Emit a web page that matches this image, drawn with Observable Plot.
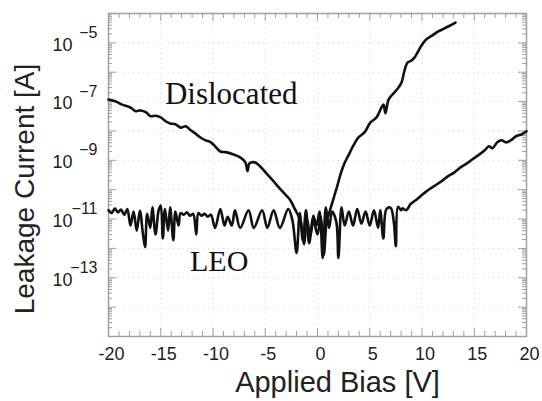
<!DOCTYPE html>
<html><head><meta charset="utf-8">
<script src="https://cdn.jsdelivr.net/npm/d3@7"></script>
<script src="https://cdn.jsdelivr.net/npm/@observablehq/plot@0.6"></script>
<style>body{margin:0;background:#fff}svg{display:block}</style>
</head><body><div id="chart"></div>
<script>
// Dislocated device: bias [V] and leakage current [A]
const disV = [-20,-19.3,-18.7,-17.9,-17.4,-16.9,-16.4,-16.0,-15.5,-15.0,-14.5,-14.1,-13.6,-13.1,-12.6,-12.2,-11.7,-11.2,-10.7,-10.2,-9.8,-9.3,-8.8,-8.1,-7.4,-6.9,-6.7,-6.5,-6.0,-5.5,-4.8,-4.3,-3.7,-3.2,-2.6,-2.2,-1.9,-1.6,-1.3,-1.0,-0.7,-0.4,0.0,0.3,0.6,0.9,1.05,1.34,1.63,1.91,2.2,2.58,2.97,3.44,3.92,4.5,5.07,5.65,6.12,6.32,6.5,6.8,7.27,7.75,8.04,8.33,8.6,9.0,9.3,9.57,9.95,10.4,11.0,11.6,12.15,12.7,13.2];
const disI = [1.17e-7,1.0e-7,7.9e-8,6.3e-8,4.7e-8,5.0e-8,4.3e-8,3.2e-8,3.3e-8,2.9e-8,2.1e-8,1.8e-8,1.7e-8,1.3e-8,1.45e-8,1.1e-8,8.3e-9,6.0e-9,4.8e-9,4.1e-9,3.0e-9,2.0e-9,1.9e-9,1.6e-9,1.26e-9,8.5e-10,4.3e-10,7.9e-10,8.5e-10,6.3e-10,3.3e-10,2.1e-10,1.2e-10,7.6e-11,4.4e-11,2.3e-11,1.45e-11,8e-12,1.4e-12,1.0e-11,2.5e-12,9e-12,3e-12,1.2e-11,6e-13,1.0e-11,1.35e-11,2.95e-11,6.5e-11,1.4e-10,3.3e-10,7.9e-10,1.5e-9,3.2e-9,6.0e-9,8.9e-9,1.95e-8,2.9e-8,6.3e-8,7.9e-8,4.0e-8,1.17e-7,1.9e-7,3.0e-7,4.5e-7,1.15e-6,2.1e-6,2.5e-6,3.2e-6,4.7e-6,8.1e-6,1.3e-5,1.8e-5,2.5e-5,3.1e-5,3.9e-5,4.9e-5];

// LEO device
const leoV = [-20.0,-19.7,-19.4,-19.1,-18.8,-18.5,-18.2,-17.9,-17.6,-17.3,-17.0,-16.7,-16.5,-16.3,-16.0,-15.8,-15.5,-15.2,-15.0,-14.8,-14.6,-14.3,-14.1,-13.8,-13.6,-13.3,-13.1,-12.8,-12.5,-12.2,-11.9,-11.6,-11.4,-11.1,-10.8,-10.5,-10.2,-9.8,-9.3,-8.9,-8.6,-8.2,-7.9,-7.4,-6.6,-6.1,-5.3,-4.8,-4.2,-3.6,-2.8,-2.4,-2.0,-1.7,-1.4,-1.1,-0.8,-0.4,-0.1,0.2,0.5,0.8,1.1,1.4,1.8,2.0,2.3,2.6,3.0,3.4,3.8,4.2,4.6,5.0,5.4,5.8,6.0,6.3,6.6,7.0,7.3,7.5,7.7,8.0,8.13,8.5,8.9,9.4,9.86,10.3,10.8,11.4,12.0,12.5,13.1,13.7,14.3,14.8,15.4,16.0,16.4,16.75,17.2,17.6,18.1,18.6,19.0,19.5,20.0];
const leoI = [2.0e-11,1.6e-11,2.3e-11,1.7e-11,2.1e-11,1.4e-11,2.2e-11,6e-12,1.8e-11,4e-12,1.9e-11,3e-12,1.1e-12,1.5e-11,5e-12,2.5e-11,3e-12,2.0e-11,2.9e-11,2.2e-12,2.2e-11,4e-12,2.5e-11,1.9e-12,1.8e-11,6e-12,1.6e-11,1.4e-11,1.7e-11,1.3e-11,1.5e-11,3e-12,1.6e-11,1.3e-11,1.5e-11,1.2e-11,1.4e-11,5e-12,2.2e-11,6e-12,1.2e-11,6e-12,2.0e-11,5e-12,2.0e-11,5e-12,2.0e-11,5e-12,2.0e-11,5e-12,2.2e-11,9e-12,7e-13,1.6e-11,1.9e-12,2.0e-11,1.5e-12,1.3e-11,6e-12,1.8e-11,4.7e-13,2.5e-11,5e-12,1.8e-11,8e-12,4.7e-13,2.5e-11,6e-12,1.8e-11,6e-12,2.2e-11,7e-12,1.8e-11,6e-12,2.0e-11,5e-12,2.0e-11,2.2e-12,2.2e-11,2.4e-11,8e-12,1.2e-12,2.6e-11,2.0e-11,2.3e-11,2.0e-11,3.2e-11,4.4e-11,6.0e-11,8.1e-11,1.1e-10,1.5e-10,2.1e-10,2.9e-10,3.9e-10,5.8e-10,7.9e-10,1.07e-9,1.5e-9,2.2e-9,3.0e-9,2.6e-9,4.1e-9,4.8e-9,4.1e-9,5.1e-9,6.6e-9,7.6e-9,9.8e-9];

const xTickLabels = [-20,-15,-10,-5,0,5,10,15,20];
const xMinorTicks = d3.range(-19, 20, 1).filter(v => v % 5 !== 0);
const yDecades = [-15,-14,-13,-12,-11,-10,-9,-8,-7,-6,-5,-4];
const yLabelExps = [-5,-7,-9,-11,-13];

const dis = disV.map((v,i) => ({v, i: disI[i]}));
const leo = leoV.map((v,i) => ({v, i: leoI[i]}));
const decadeVals = yDecades.map(e => Math.pow(10, e));
const minorY = [];
for (const e of yDecades.slice(0,-1)) for (let m = 2; m <= 9; m++) minorY.push(m * Math.pow(10, e));

const W = 542, H = 401, mt = 13, mb = 65, ml = 108, mr = 16;
const fh = H - mt - mb, fw = W - ml - mr;
const frameColor = "#a0a0a0";
const txt = "#222";
const serif = "Liberation Serif, Times New Roman, serif";

const chart = Plot.plot({
  width: W, height: H,
  marginTop: mt, marginBottom: mb, marginLeft: ml, marginRight: mr,
  style: {fontFamily: "Liberation Sans, Arial, sans-serif", background: "#fff", overflow: "visible"},
  x: {domain: [-20, 20], axis: null},
  y: {type: "log", domain: [1e-15, 1e-4], axis: null},
  marks: [
    // faint dotted grid
    Plot.ruleX(xTickLabels.slice(1,-1), {stroke: "#d8d8d8", strokeDasharray: "1,4", strokeWidth: 1}),
    Plot.ruleY(decadeVals.slice(1,-1), {stroke: "#d8d8d8", strokeDasharray: "1,4", strokeWidth: 1}),
    // inward ticks, x bottom/top
    Plot.ruleX(xTickLabels, {stroke: frameColor, insetTop: fh - 8}),
    Plot.ruleX(xTickLabels, {stroke: frameColor, insetBottom: fh - 8}),
    Plot.ruleX(xMinorTicks, {stroke: frameColor, insetTop: fh - 5}),
    Plot.ruleX(xMinorTicks, {stroke: frameColor, insetBottom: fh - 5}),
    // inward ticks, y left/right
    Plot.ruleY(decadeVals, {stroke: frameColor, insetRight: fw - 8}),
    Plot.ruleY(decadeVals, {stroke: frameColor, insetLeft: fw - 8}),
    Plot.ruleY(minorY, {stroke: frameColor, insetRight: fw - 4}),
    Plot.ruleY(minorY, {stroke: frameColor, insetLeft: fw - 4}),
    Plot.frame({stroke: frameColor, strokeWidth: 1.5}),
    // data
    Plot.line(leo, {x: "v", y: "i", stroke: "#111", strokeWidth: 2.6, curve: "catmull-rom", strokeLinejoin: "round"}),
    Plot.line(dis, {x: "v", y: "i", stroke: "#111", strokeWidth: 2.6, curve: "catmull-rom", strokeLinejoin: "round"}),
    // x tick labels
    Plot.text(xTickLabels, {x: d => d, frameAnchor: "bottom", dy: 18, dx: 3, lineAnchor: "middle", text: d => String(d), fontSize: 18, fill: txt}),
    // y tick labels: "10" with superscript exponent
    Plot.text(yLabelExps, {y: d => Math.pow(10, d), frameAnchor: "left", dx: -36, dy: 2, textAnchor: "end", lineAnchor: "middle", text: () => "10", fontSize: 18, fill: txt}),
    Plot.text(yLabelExps, {y: d => Math.pow(10, d), frameAnchor: "left", dx: -11, dy: -10, textAnchor: "end", lineAnchor: "middle", text: d => "\u2212" + String(-d), fontSize: 16, fill: txt}),
    // annotations
    Plot.text(["Dislocated"], {x: -14.6, y: 1e-7, text: d => d, textAnchor: "start", lineAnchor: "bottom", dy: 2, fontSize: 31, fontFamily: serif, fill: "#111"}),
    Plot.text(["LEO"], {x: -12.2, y: 1e-13, text: d => d, textAnchor: "start", lineAnchor: "bottom", dy: -7, fontSize: 30, fontFamily: serif, fill: "#111"}),
    // axis titles
    Plot.text(["Applied Bias [V]"], {frameAnchor: "bottom", dx: 20, dy: 55, textAnchor: "middle", lineAnchor: "bottom", text: d => d, fontSize: 29, fill: txt}),
    Plot.text(["Leakage Current [A]"], {frameAnchor: "left", dx: -94, dy: 14, rotate: -90, textAnchor: "middle", lineAnchor: "top", text: d => d, fontSize: 28, fill: txt})
  ]
});
document.getElementById("chart").appendChild(chart);
</script>
</body></html>
